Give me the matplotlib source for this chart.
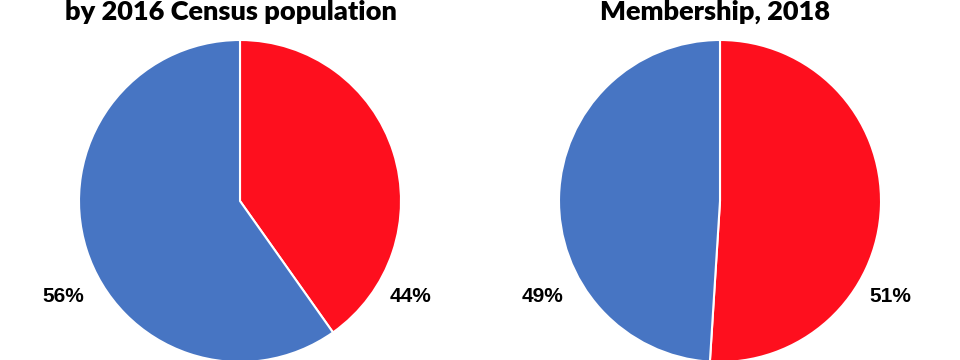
import matplotlib.pyplot as plt

titles = ["by 2016 Census population", "Membership, 2018"]
# wedge sizes as drawn (red first, clockwise from 12 o'clock)
left_shares = [40.2, 59.8]
right_shares = [51, 49]
left_labels = ["44%", "56%"]
right_labels = ["51%", "49%"]

colors = ["#FE0F1E", "#4775C3"]

plt.rcParams['font.family'] = ['Liberation Sans', 'DejaVu Sans']

fig = plt.figure(figsize=(9.6, 3.6), dpi=100)
W, H = 960, 360
R = 161

def add_pie(cx, cy, shares, labels, title, title_x):
    ax = fig.add_axes([(cx - R) / W, (H - cy - R) / H, 2 * R / W, 2 * R / H])
    ax.pie(shares, colors=colors, startangle=90, counterclock=False, radius=1,
           wedgeprops=dict(edgecolor='white', linewidth=1.5))
    ax.set_xlim(-1, 1)
    ax.set_ylim(-1, 1)
    ax.set_aspect('equal')
    ax.axis('off')
    # red label on right, blue label on left
    ax.text(1.06, -0.596, labels[0], ha='center', va='center',
            fontsize=15, fontweight='bold', family='Liberation Sans')
    ax.text(-1.10, -0.596, labels[1], ha='center', va='center',
            fontsize=15, fontweight='bold', family='Liberation Sans')
    fig.text(title_x / W, 1 - 19.5 / H, title, ha='center', va='baseline',
             fontsize=19.5, fontweight='heavy', family=['Lato', 'DejaVu Sans'])

add_pie(240, 201, left_shares, left_labels, titles[0], 231)
add_pie(720, 201, right_shares, right_labels, titles[1], 715)

fig.savefig("out.png", dpi=100)
